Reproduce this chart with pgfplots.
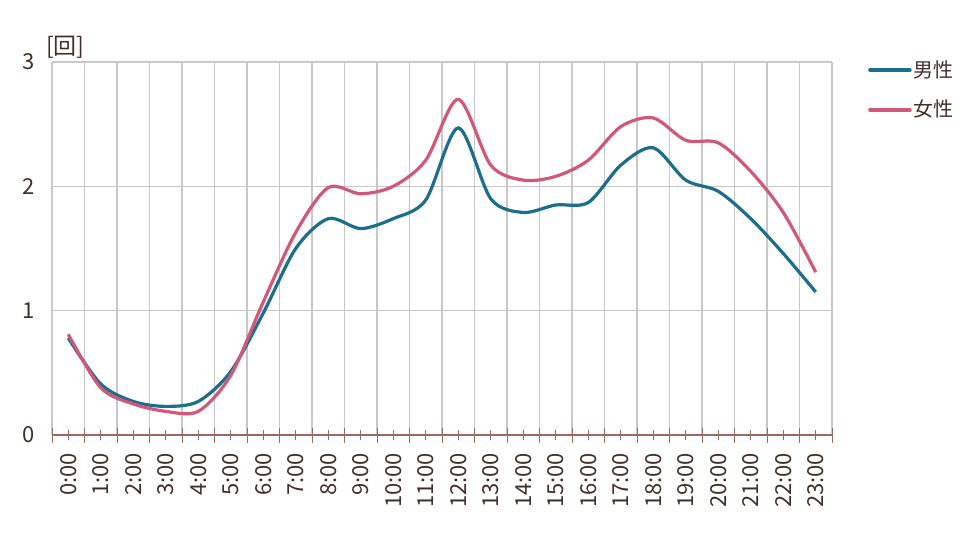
\documentclass[border=0pt]{standalone}
\usepackage{fontspec}
\setmainfont{Noto Sans CJK JP}
\usepackage{pgfplots}
\pgfplotsset{compat=1.18}
\definecolor{txt}{HTML}{40302C}
\definecolor{axbrown}{HTML}{9A6A60}
\definecolor{gridc}{HTML}{C8C8C8}
\definecolor{male}{HTML}{1C6E8C}
\definecolor{female}{HTML}{D2587A}
\begin{document}
\fontsize{20pt}{24pt}\selectfont
\begin{tikzpicture}[x=1pt,y=1pt]
\useasboundingbox (0,0) rectangle (972,539);
\begin{axis}[
  at={(52pt,104pt)}, anchor=south west,
  scale only axis, width=780pt, height=373pt,
  clip mode=individual,
  xmin=-0.5, xmax=23.5, ymin=0, ymax=3,
  xtick={0,...,23},
  xticklabels={0:00,1:00,2:00,3:00,4:00,5:00,6:00,7:00,8:00,9:00,10:00,11:00,12:00,13:00,14:00,15:00,16:00,17:00,18:00,19:00,20:00,21:00,22:00,23:00},
  minor xtick={-0.5,0.5,...,23.5},
  xminorgrids, ymajorgrids,
  ytick={0,1,2,3},
  minor grid style={gridc, line width=1.2pt},
  major grid style={gridc, line width=1.2pt},
  separate axis lines,
  y axis line style={draw=none},
  x axis line style={axbrown, line width=1.2pt},
  axis x line*=bottom,
  ytick style={draw=none},
  xtick style={axbrown, line width=0.9pt},
  tick align=center,
  major tick length=10pt,
  minor tick length=15pt,
  /pgf/number format/assume math mode=true,
  tick label style={text=txt, font=\fontsize{22pt}{26pt}\selectfont},
  xticklabel style={rotate=90, anchor=east, xshift=-6pt},
  yticklabel style={xshift=-5pt},
  legend style={at={(rel axis cs:1,1)}, anchor=north west, xshift=36pt, yshift=4pt,
    draw=none, fill=none, text=txt, font=\fontsize{20pt}{24pt}\selectfont,
    row sep=16pt, inner sep=0pt},
  legend cell align=left,
  legend image code/.code={\draw[#1, line width=3.5pt, line cap=round] (0pt,0pt) -- (40pt,0pt);},
]
\addplot[male, line width=3.2pt, smooth, tension=0.5] coordinates {
(0,0.78) (1,0.41) (2,0.27) (3,0.23) (4,0.27) (5,0.51) (6,0.98) (7,1.50) (8,1.74) (9,1.66) (10,1.74) (11,1.89) (12,2.47) (13,1.90) (14,1.79) (15,1.85) (16,1.87) (17,2.17) (18,2.31) (19,2.05) (20,1.96) (21,1.74) (22,1.46) (23,1.15)};
\addlegendentry{男性}
\addplot[female, line width=3.2pt, smooth, tension=0.5] coordinates {
(0,0.81) (1,0.38) (2,0.25) (3,0.19) (4,0.19) (5,0.48) (6,1.07) (7,1.63) (8,1.99) (9,1.94) (10,2.00) (11,2.21) (12,2.70) (13,2.17) (14,2.05) (15,2.08) (16,2.21) (17,2.48) (18,2.55) (19,2.37) (20,2.35) (21,2.12) (22,1.79) (23,1.31)};
\addlegendentry{女性}
\node[anchor=south west, text=txt, inner sep=0pt, xshift=-6pt, yshift=3pt, font=\fontsize{23pt}{26pt}\selectfont] at (rel axis cs:0,1) {[回]};
\end{axis}
\end{tikzpicture}
\end{document}
